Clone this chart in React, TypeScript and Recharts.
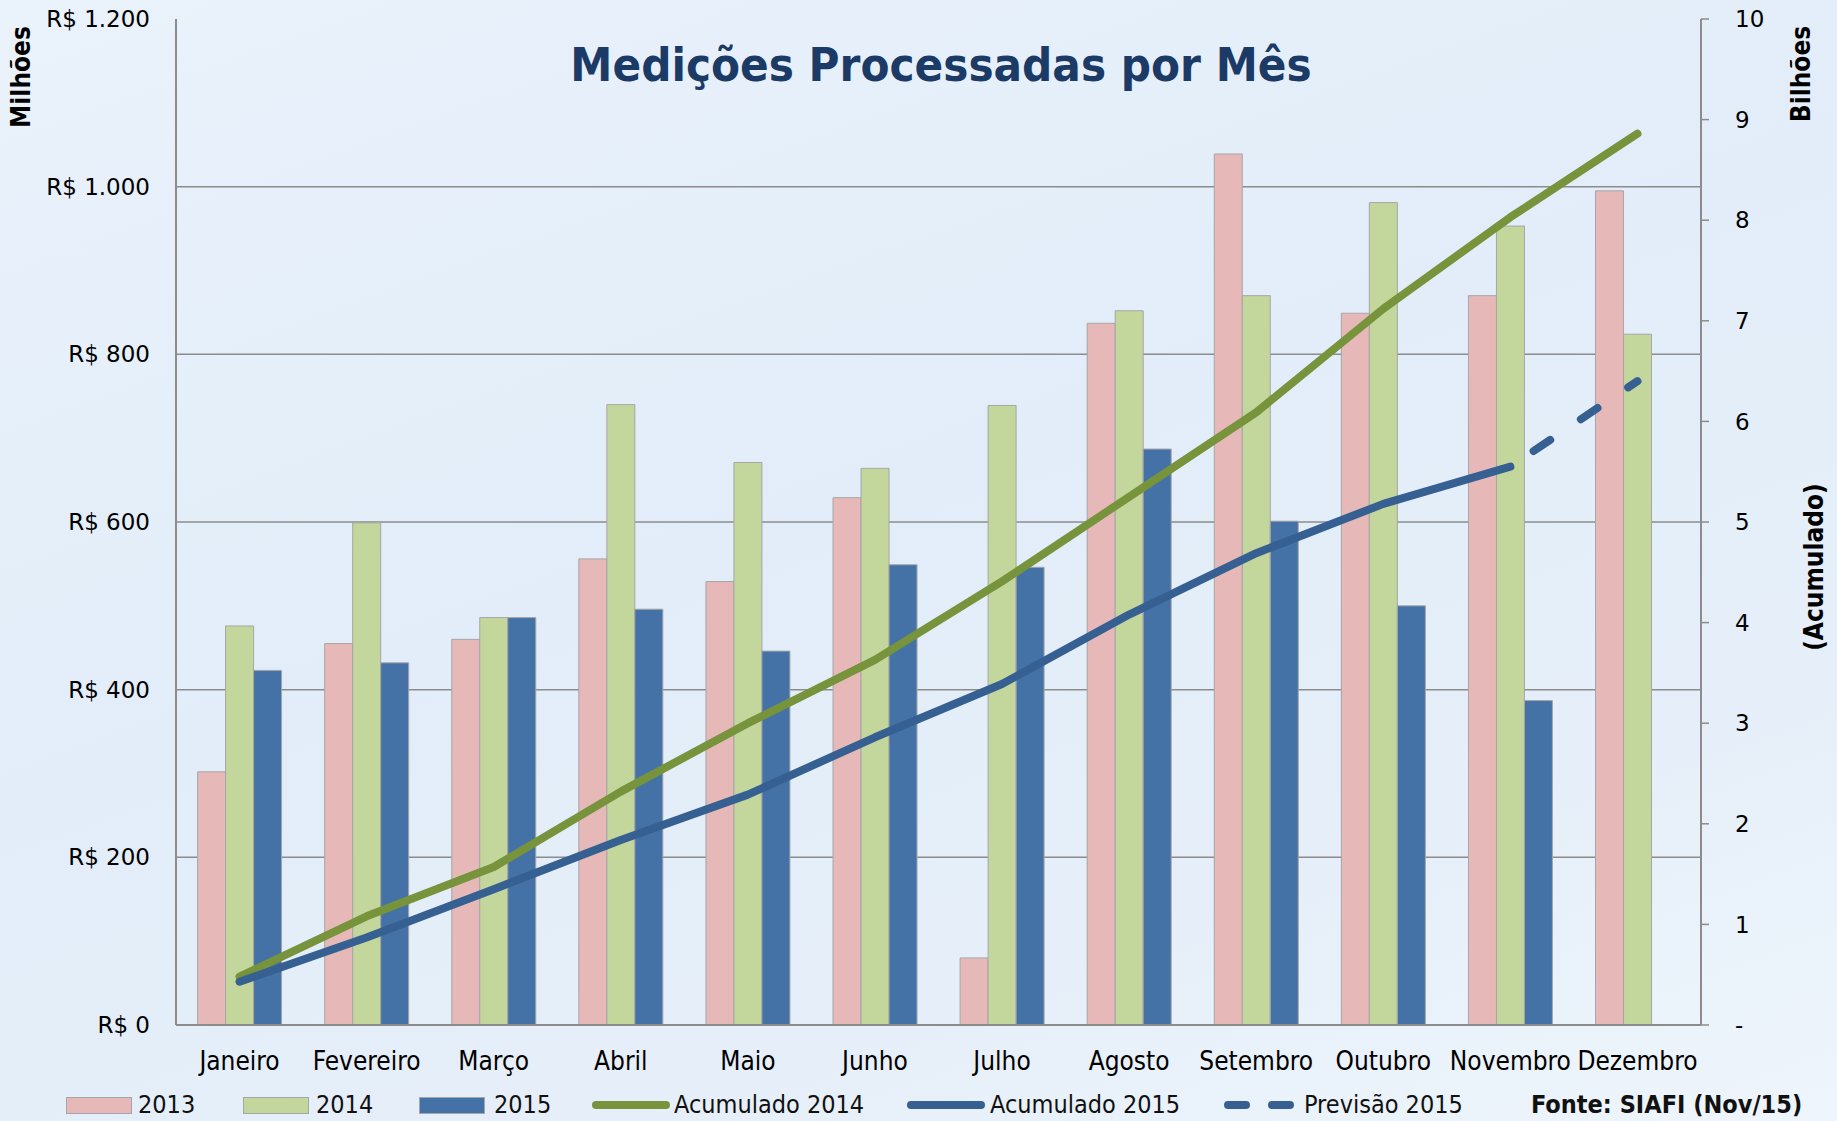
import React from 'react';
import { ComposedChart, Bar, Line, XAxis, YAxis, CartesianGrid } from 'recharts';

const months = ['Janeiro', 'Fevereiro', 'Março', 'Abril', 'Maio', 'Junho', 'Julho', 'Agosto', 'Setembro', 'Outubro', 'Novembro', 'Dezembro'];
const v2013 = [302, 455, 460, 556, 529, 629, 80, 837, 1039, 849, 870, 995];
const v2014 = [476, 599, 486, 740, 671, 664, 739, 852, 870, 981, 953, 824];
const v2015 = [423, 432, 486, 496, 446, 549, 546, 687, 601, 500, 387, null];
const acum2014 = [0.48, 1.08, 1.57, 2.32, 3.0, 3.63, 4.41, 5.25, 6.09, 7.12, 8.03, 8.86];
const acum2015 = [0.43, 0.87, 1.35, 1.84, 2.29, 2.86, 3.39, 4.08, 4.69, 5.18, 5.55, null];
const prev2015 = [null, null, null, null, null, null, null, null, null, null, 5.55, 6.4];

const leftTicks = [0, 200, 400, 600, 800, 1000, 1200];
const rightTicks = [0, 1, 2, 3, 4, 5, 6, 7, 8, 9, 10];
const gridValues = [200, 400, 600, 800, 1000];

const data = months.map((m, i) => ({
  month: m,
  y2013: v2013[i],
  y2014: v2014[i],
  y2015: v2015[i],
  acum2014: acum2014[i],
  acum2015: acum2015[i],
  prev2015: prev2015[i],
}));

const C13 = '#e6b9b8';
const C14 = '#c3d69b';
const C15 = '#4472a6';
const LG = '#77933c';
const LB = '#376092';
const AXIS = '#8c8c8c';

const condensed = '"DejaVu Sans Condensed", "DejaVu Sans", sans-serif';
const brl = (v: number) => 'R$ ' + v.toLocaleString('pt-BR');

const legendText: React.CSSProperties = {
  position: 'absolute',
  top: 1090,
  fontFamily: condensed,
  fontStretch: 'condensed',
  fontSize: 25,
  color: '#111',
  lineHeight: '30px',
};

const Swatch = ({ left, color }: { left: number; color: string }) => (
  <div style={{ position: 'absolute', left, top: 1097, width: 64, height: 15, background: color, border: '1px solid #a6a6a6' }} />
);

const LineSwatch = ({ left, color, dashed }: { left: number; color: string; dashed?: boolean }) => (
  <svg style={{ position: 'absolute', left, top: 1095 }} width={80} height={20}>
    <line x1={4} y1={10} x2={74} y2={10} stroke={color} strokeWidth={8} strokeLinecap="round" strokeDasharray={dashed ? '18 26' : undefined} />
  </svg>
);

const rotated = (x: number, y: number, text: string) => (
  <div
    style={{
      position: 'absolute',
      left: x,
      top: y,
      transform: 'translate(-50%, -50%) rotate(-90deg)',
      fontFamily: condensed,
      fontStretch: 'condensed',
      fontWeight: 'bold',
      fontSize: 26,
      color: '#000',
      whiteSpace: 'nowrap',
    }}
  >
    {text}
  </div>
);

export default function App() {
  return (
    <div
      style={{
        position: 'relative',
        width: 1837,
        height: 1121,
        overflow: 'hidden',
        background: 'linear-gradient(160deg, #eaf2fb 0%, #e2edf9 45%, #e6eff9 75%, #eef5fc 100%)',
      }}
    >
      <style>{'body{margin:0}'}</style>
      <ComposedChart
        width={1837}
        height={1121}
        data={data}
        margin={{ top: 19, right: 0, bottom: 56, left: 0 }}
        barCategoryGap="17%"
        barGap={0}
      >
        <CartesianGrid yAxisId="left" vertical={false} horizontalValues={gridValues} stroke={AXIS} strokeWidth={1.5} />
        <XAxis
          dataKey="month"
          height={40}
          tickLine={false}
          tickSize={0}
          tickMargin={27}
          axisLine={{ stroke: AXIS, strokeWidth: 2 }}
          tick={{ fontSize: 26, fill: '#000', fontFamily: condensed, fontStretch: 'condensed' }}
          interval={0}
        />
        <YAxis
          yAxisId="left"
          width={176}
          domain={[0, 1200]}
          ticks={leftTicks}
          tickFormatter={brl}
          tickLine={false}
          tickSize={0}
          tickMargin={26}
          axisLine={{ stroke: AXIS, strokeWidth: 2 }}
          tick={{ fontSize: 23, fill: '#000', fontFamily: '"DejaVu Sans", sans-serif' }}
          interval={0}
        />
        <YAxis
          yAxisId="right"
          orientation="right"
          width={136}
          domain={[0, 10]}
          ticks={rightTicks}
          tickFormatter={(v: number) => (v === 0 ? '-' : String(v))}
          tickLine={{ stroke: AXIS, strokeWidth: 1.5 }}
          tickSize={8}
          tickMargin={26}
          axisLine={{ stroke: AXIS, strokeWidth: 2 }}
          tick={{ fontSize: 23, fill: '#000', fontFamily: '"DejaVu Sans", sans-serif' }}
          interval={0}
        />
        <Bar yAxisId="left" dataKey="y2013" fill={C13} stroke="#a6a6a6" strokeWidth={1} isAnimationActive={false} />
        <Bar yAxisId="left" dataKey="y2014" fill={C14} stroke="#a6a6a6" strokeWidth={1} isAnimationActive={false} />
        <Bar yAxisId="left" dataKey="y2015" fill={C15} stroke="#a6a6a6" strokeWidth={1} isAnimationActive={false} />
        <Line yAxisId="right" dataKey="acum2014" stroke={LG} strokeWidth={8} strokeLinecap="round" strokeLinejoin="round" dot={false} activeDot={false} isAnimationActive={false} />
        <Line yAxisId="right" dataKey="acum2015" stroke={LB} strokeWidth={8} strokeLinecap="round" strokeLinejoin="round" dot={false} activeDot={false} isAnimationActive={false} />
        <Line yAxisId="right" dataKey="prev2015" stroke={LB} strokeWidth={8} strokeLinecap="round" strokeDasharray="20 37" strokeDashoffset={29} dot={false} activeDot={false} isAnimationActive={false} />
      </ComposedChart>

      <div
        style={{
          position: 'absolute',
          left: 941,
          top: 64,
          transform: 'translate(-50%, -50%)',
          fontFamily: condensed,
          fontStretch: 'condensed',
          fontWeight: 'bold',
          fontSize: 47,
          color: '#1b3a66',
          whiteSpace: 'nowrap',
        }}
      >
        Medições Processadas por Mês
      </div>

      {rotated(21, 77, 'Milhões')}
      {rotated(1801, 74, 'Bilhões')}
      {rotated(1814, 567, '(Acumulado)')}

      <Swatch left={66} color={C13} />
      <div style={{ ...legendText, left: 138 }}>2013</div>
      <Swatch left={243} color={C14} />
      <div style={{ ...legendText, left: 316 }}>2014</div>
      <Swatch left={419} color={C15} />
      <div style={{ ...legendText, left: 494 }}>2015</div>
      <LineSwatch left={592} color={LG} />
      <div style={{ ...legendText, left: 674 }}>Acumulado 2014</div>
      <LineSwatch left={907} color={LB} />
      <div style={{ ...legendText, left: 990 }}>Acumulado 2015</div>
      <LineSwatch left={1224} color={LB} dashed />
      <div style={{ ...legendText, left: 1304 }}>Previsão 2015</div>
      <div style={{ ...legendText, left: 1531, fontWeight: 'bold' }}>Fonte: SIAFI (Nov/15)</div>
    </div>
  );
}
